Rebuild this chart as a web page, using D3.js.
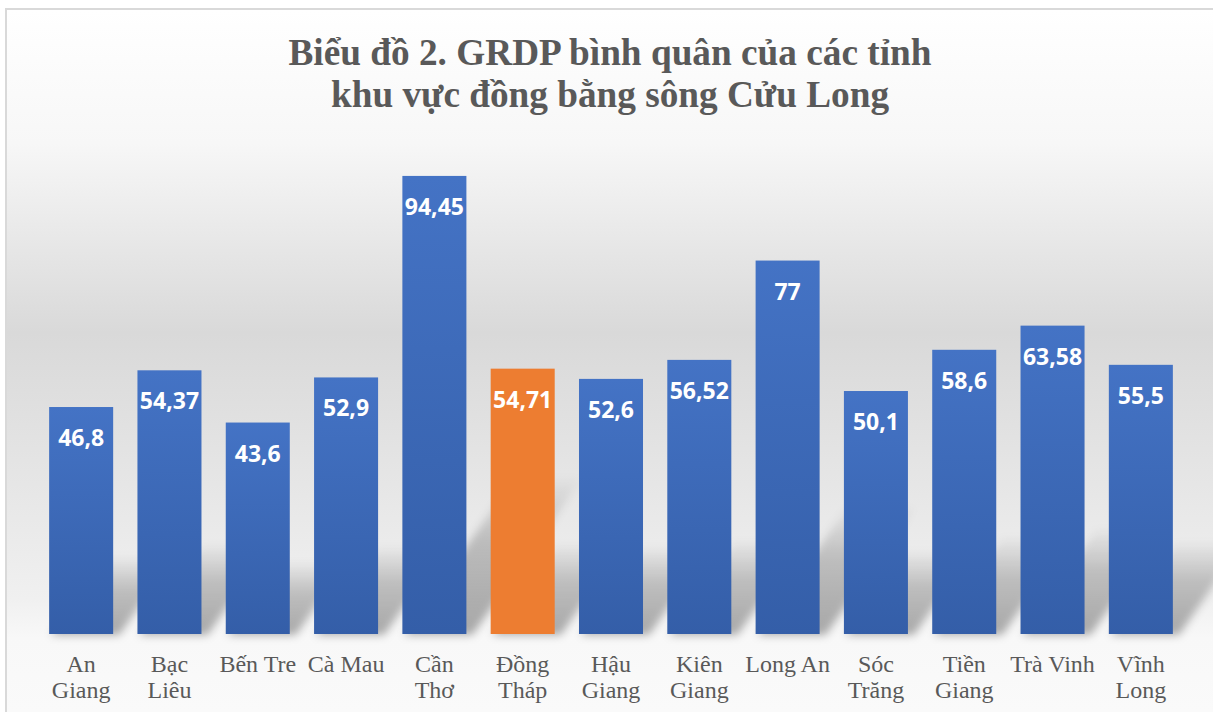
<!DOCTYPE html>
<html>
<head>
<meta charset="utf-8">
<script src="https://cdn.jsdelivr.net/npm/d3@7"></script>
<style>
  html, body { margin: 0; padding: 0; background: #fff; }
  svg { display: block; }
</style>
</head>
<body>
<svg id="chart" width="1213" height="712"></svg>
<script>
// data
const provinces = [
  "An\nGiang", "Bạc\nLiêu", "Bến Tre", "Cà Mau", "Cần\nThơ", "Đồng\nTháp",
  "Hậu\nGiang", "Kiên\nGiang", "Long An", "Sóc\nTrăng", "Tiền\nGiang",
  "Trà Vinh", "Vĩnh\nLong"
];
const grdp = [46.8, 54.37, 43.6, 52.9, 94.45, 54.71, 52.6, 56.52, 77, 50.1, 58.6, 63.58, 55.5];
const highlight = "Đồng\nTháp";
const titleLines = [
  "Biểu đồ 2. GRDP bình quân của các tỉnh",
  "khu vực đồng bằng sông Cửu Long"
];

const width = 1213;
const height = 712;
const svg = d3.select("#chart");
const defs = svg.append("defs");

// background gradient of the chart area
let bg = defs.append("linearGradient")
  .attr("id", "bg")
  .attr("gradientUnits", "userSpaceOnUse")
  .attr("x1", 0).attr("y1", 10).attr("x2", 0).attr("y2", height);
[
  [0, "#ffffff"], [0.19, "#f7f7f7"], [0.46, "#d9d9d9"],
  [0.84, "#f0f0f0"], [0.895, "#f8f8f8"], [1, "#fafafa"]
].forEach(([o, c]) => bg.append("stop").attr("offset", o).attr("stop-color", c));

let barGrad = defs.append("linearGradient")
  .attr("id", "barBlue")
  .attr("x1", 0).attr("y1", 0).attr("x2", 0).attr("y2", 1);
barGrad.append("stop").attr("offset", 0).attr("stop-color", "#4473c5");
barGrad.append("stop").attr("offset", 1).attr("stop-color", "#345ea8");

let shGrad = defs.append("linearGradient")
  .attr("id", "shade")
  .attr("x1", 0).attr("y1", 1).attr("x2", 0).attr("y2", 0);
shGrad.append("stop").attr("offset", 0).attr("stop-color", "#000").attr("stop-opacity", 0.32);
shGrad.append("stop").attr("offset", 0.6).attr("stop-color", "#000").attr("stop-opacity", 0.2);
shGrad.append("stop").attr("offset", 1).attr("stop-color", "#000").attr("stop-opacity", 0.02);

defs.append("filter")
  .attr("id", "blur")
  .attr("x", "-30%").attr("y", "-30%").attr("width", "160%").attr("height", "160%")
  .append("feGaussianBlur").attr("stdDeviation", 4);

// chart area with its thin border
svg.append("rect")
  .attr("x", 6).attr("y", 9)
  .attr("width", width + 10).attr("height", height + 10)
  .attr("fill", "url(#bg)")
  .attr("stroke", "#d9d9d9")
  .attr("stroke-width", 2);

const x = d3.scaleBand()
  .domain(provinces)
  .range([37, 1185])
  .paddingInner(0.275)
  .paddingOuter(0.1375);

const y = d3.scaleLinear()
  .domain([0, 100])
  .range([634, 149]);

const rows = provinces.map((p, i) => ({ name: p, value: grdp[i] }));

// perspective shadows behind bars
svg.append("g")
  .selectAll("polygon")
  .data(rows)
  .join("polygon")
  .attr("filter", "url(#blur)")
  .attr("fill", "url(#shade)")
  .attr("points", (d) => {
    let x0 = x(d.name) + 2;
    let x1 = x(d.name) + x.bandwidth() + 6;
    let base = y(0) + 1;
    let h = (y(0) - y(d.value)) * 0.34;
    let dx = h * 0.7;
    return [[x0, base], [x1, base], [x1 + dx, base - h], [x0 + dx, base - h]].join(" ");
  });

// bars
svg.append("g")
  .selectAll("rect")
  .data(rows)
  .join("rect")
  .attr("x", (d) => x(d.name))
  .attr("y", (d) => y(d.value))
  .attr("width", x.bandwidth())
  .attr("height", (d) => y(0) - y(d.value))
  .attr("fill", (d) => (d.name == highlight ? "#ed7d31" : "url(#barBlue)"));

// value labels inside the bars
svg.append("g")
  .selectAll("text")
  .data(rows)
  .join("text")
  .attr("x", (d) => x(d.name) + x.bandwidth() / 2)
  .attr("y", (d) => y(d.value) + 39)
  .attr("text-anchor", "middle")
  .attr("font-family", "'Noto Sans', sans-serif")
  .attr("font-weight", "bold")
  .attr("font-size", 23)
  .attr("fill", "#ffffff")
  .text((d) => String(d.value).replace(".", ","));

// category axis
let axis = svg.append("g")
  .attr("transform", `translate(0,${y(0)})`)
  .call(d3.axisBottom(x).tickSize(0).tickFormat(() => ""));
axis.select(".domain").remove();
axis.selectAll(".tick text").remove();
axis.selectAll(".tick")
  .append("text")
  .attr("text-anchor", "middle")
  .attr("font-family", "'Liberation Serif', 'Times New Roman', serif")
  .attr("font-size", 24)
  .attr("fill", "#595959")
  .each(function (d) {
    let t = d3.select(this);
    d.split("\n").forEach((line, i) => {
      t.append("tspan").attr("x", 0).attr("y", 38 + i * 26).text(line);
    });
  });

// title
svg.append("g")
  .selectAll("text")
  .data(titleLines)
  .join("text")
  .attr("x", 610)
  .attr("y", (d, i) => 65 + i * 42)
  .attr("text-anchor", "middle")
  .attr("font-family", "'Liberation Serif', 'Times New Roman', serif")
  .attr("font-weight", "bold")
  .attr("font-size", 37)
  .attr("fill", "#595959")
  .attr("textLength", (d, i) => (i == 0 ? 643 : 558))
  .attr("lengthAdjust", "spacingAndGlyphs")
  .text((d) => d);
</script>
</body>
</html>
